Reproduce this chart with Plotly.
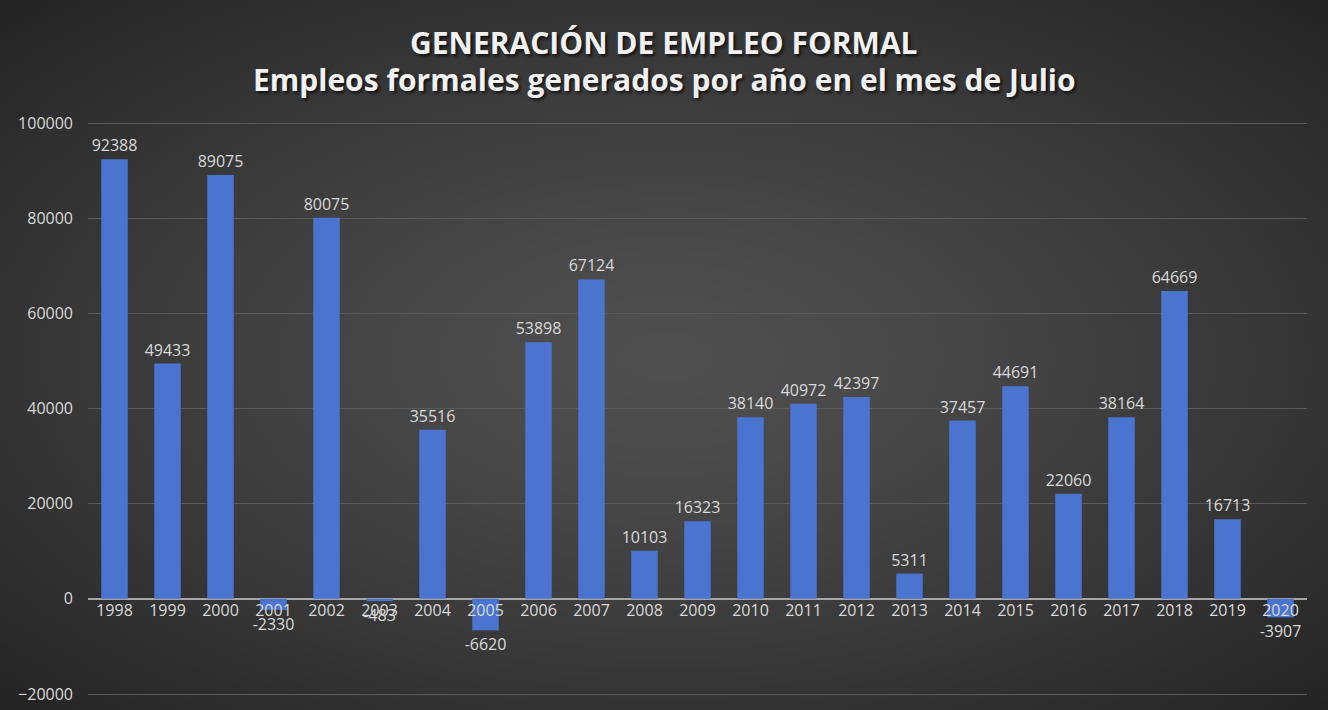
import base64
import struct
import zlib

import numpy as np
import plotly.graph_objects as go

years = [str(y) for y in range(1998, 2021)]
empleos = [92388, 49433, 89075, -2330, 80075, -483, 35516, -6620, 53898, 67124,
           10103, 16323, 38140, 40972, 42397, 5311, 37457, 44691, 22060, 38164,
           64669, 16713, -3907]
y_ticks = [-20000, 0, 20000, 40000, 60000, 80000, 100000]

W, H = 1328, 710
ML, MR, MT, MB = 88, 21, 120, 13


def radial_png(w, h, inner=(80, 80, 80), outer=(36, 36, 36)):
    # dark vignette background similar to the Excel chart style
    yy, xx = np.mgrid[0:h, 0:w]
    dx = (xx - w / 2) / (w / 2)
    dy = (yy - h / 2) / (h / 2)
    r = np.clip(np.sqrt(dx ** 2 + dy ** 2) / 1.414, 0, 1) ** 1.3
    img = np.zeros((h, w, 3), dtype=np.uint8)
    for c in range(3):
        img[..., c] = (inner[c] + (outer[c] - inner[c]) * r).astype(np.uint8)
    raw = b''.join(b'\x00' + img[i].tobytes() for i in range(h))

    def chunk(tag, data):
        return (struct.pack('>I', len(data)) + tag + data +
                struct.pack('>I', zlib.crc32(tag + data) & 0xffffffff))

    png = (b'\x89PNG\r\n\x1a\n' +
           chunk(b'IHDR', struct.pack('>IIBBBBB', w, h, 8, 2, 0, 0, 0)) +
           chunk(b'IDAT', zlib.compress(raw, 9)) + chunk(b'IEND', b''))
    return 'data:image/png;base64,' + base64.b64encode(png).decode()


pw, ph = W - ML - MR, H - MT - MB
txt_font = dict(color='#d9d9d9', size=16, family='Open Sans')
shadow = '2px 2px 3px rgba(0,0,0,0.7)'
# 3px of headroom at each end so the edge gridlines are drawn
pad = 3 * 120000 / (ph - 6)

fig = go.Figure(go.Bar(
    x=years,
    y=empleos,
    text=[str(v) for v in empleos],
    textposition='outside',
    cliponaxis=False,
    textfont=txt_font,
    marker=dict(color='#4a74cf', line=dict(width=0)),
    width=0.5,
))

fig.add_layout_image(
    source=radial_png(332, 178),
    xref='paper', yref='paper',
    x=-ML / pw, y=1 + MT / ph,
    sizex=W / pw, sizey=H / ph,
    sizing='stretch', layer='below',
)

fig.add_annotation(text='<b>GENERACIÓN DE EMPLEO FORMAL</b>',
                   xref='paper', yref='paper', x=(W / 2 - ML) / pw,
                   y=1 + (MT - 42) / ph, yanchor='middle', showarrow=False,
                   font=dict(size=30, color='#f2f2f2', family='Open Sans',
                             shadow=shadow))
fig.add_annotation(text='<b>Empleos formales generados por año en el mes de Julio</b>',
                   xref='paper', yref='paper', x=(W / 2 - ML) / pw,
                   y=1 + (MT - 80) / ph, yanchor='middle', showarrow=False,
                   font=dict(size=30, color='#f2f2f2', family='Open Sans',
                             shadow=shadow))

fig.update_xaxes(
    type='category', anchor='free', position=(20000 + pad) / (120000 + 2 * pad),
    showgrid=False, showline=False, ticks='', automargin=False,
    tickfont=txt_font,
    range=[-0.5, 22.5],
)
fig.update_yaxes(
    range=[-20000 - pad, 100000 + pad], tickvals=y_ticks, tickformat='d',
    gridcolor='#595959', gridwidth=1, automargin=False,
    zeroline=True, zerolinecolor='#a6a6a6', zerolinewidth=2,
    tickfont=txt_font,
    ticklabelstandoff=14,
)
fig.update_layout(
    width=W, height=H,
    margin=dict(l=ML, r=MR, t=MT, b=MB),
    paper_bgcolor='#333333',
    plot_bgcolor='rgba(0,0,0,0)',
    showlegend=False,
    uniformtext=dict(minsize=16, mode='show'),
)

fig.write_html('out.html', config={'displayModeBar': False},
               post_script="document.body.style.margin='0';")
